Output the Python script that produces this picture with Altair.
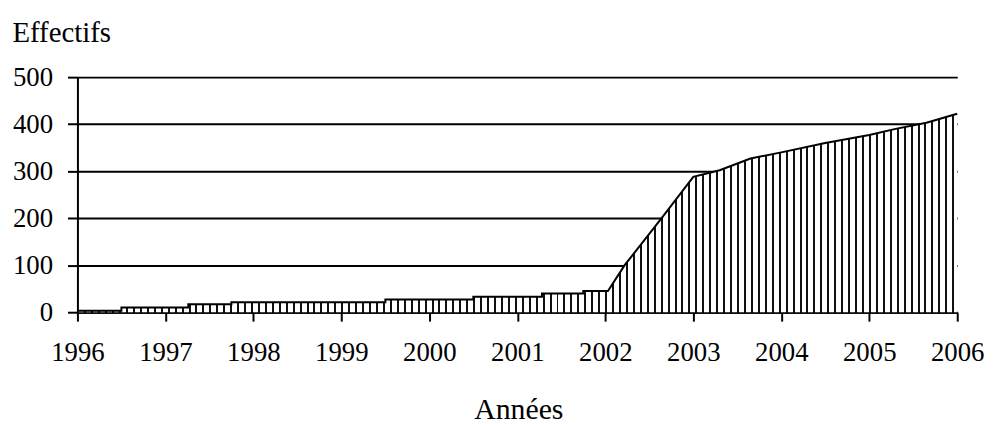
import altair as alt
import pandas as pd

# Values
annees = [1996, 1996.5, 1996.5, 1997.26, 1997.26, 1997.75, 1997.75, 1999.5, 1999.5,
          2000.5, 2000.5, 2001.28, 2001.28, 2001.75, 2001.75, 2002.03, 2002.22,
          2002.64, 2003.0, 2003.3, 2003.65, 2004.0, 2004.5, 2005.0, 2005.3,
          2005.65, 2006.0]
effectifs = [3, 3, 10, 10, 17, 17, 21, 21, 27, 27, 33, 33, 40, 40, 45, 45, 100,
             200, 288, 302, 327, 340, 360, 377, 390, 403, 422]
x_ticks = list(range(1996, 2007))
y_ticks = [0, 100, 200, 300, 400, 500]

df = pd.DataFrame({"annee": annees, "eff": effectifs, "idx": list(range(len(annees)))})

W, H = 887, 237
FONT = "Liberation Serif"

# hatch-like fill: thin dark stripes built as a hard-edged linear gradient
period, bar = 7.0, 2.0
stops = []
pos = 0.0
while pos + bar < W:
    s = round(pos / W, 5)
    e = round((pos + bar) / W, 5)
    n = round(min((pos + period) / W, 1.0), 5)
    stops += [
        {"offset": s, "color": "#111111"},
        {"offset": e, "color": "#111111"},
        {"offset": e, "color": "#ffffff"},
        {"offset": n, "color": "#ffffff"},
    ]
    pos += period
hatch = {"gradient": "linear", "x1": 0, "y1": 0, "x2": 1, "y2": 0, "stops": stops}

x_enc = alt.X(
    "annee:Q",
    scale=alt.Scale(domain=[1996, 2006], nice=False, zero=False),
    axis=alt.Axis(
        values=x_ticks, format="d", grid=False,
        domainColor="black", domainWidth=2,
        tickColor="black", tickWidth=2, tickSize=9,
        labelFont=FONT, labelFontSize=27, labelColor="black", labelPadding=19,
        labelFlush=False, labelOverlap=False,
        title="Années", titleFont=FONT, titleFontSize=30, titleFontWeight="normal",
        titleColor="black", titleAlign="center", titleBaseline="alphabetic",
        titleX=W / 2 + 1, titleY=107,
    ),
)
y_enc = alt.Y(
    "eff:Q",
    stack=None,
    scale=alt.Scale(domain=[0, 500], nice=False),
    axis=alt.Axis(
        values=y_ticks, grid=True, gridColor="black", gridWidth=2,
        domainColor="black", domainWidth=2,
        tickColor="black", tickWidth=2, tickSize=10,
        labelFont=FONT, labelFontSize=27, labelColor="black", labelPadding=15,
        title="Effectifs", titleFont=FONT, titleFontSize=29, titleFontWeight="normal",
        titleColor="black", titleAngle=0, titleAlign="left", titleBaseline="alphabetic",
        titleX=-66, titleY=-36,
    ),
)

area = alt.Chart(df).mark_area(fill=hatch, interpolate="linear").encode(x=x_enc, y=y_enc)
line = alt.Chart(df).mark_line(color="black", strokeWidth=2, interpolate="linear").encode(
    x=x_enc, y=y_enc, order=alt.Order("idx:Q")
)

chart = (
    alt.layer(area, line)
    .properties(
        width=W, height=H,
        autosize=alt.AutoSizeParams(type="none"),
        padding={"left": 70, "top": 68, "right": 28, "bottom": 111},
        background="white",
    )
    .configure_view(stroke=None)
)

chart.save("out.html", embed_options={"renderer": "svg", "actions": False})
